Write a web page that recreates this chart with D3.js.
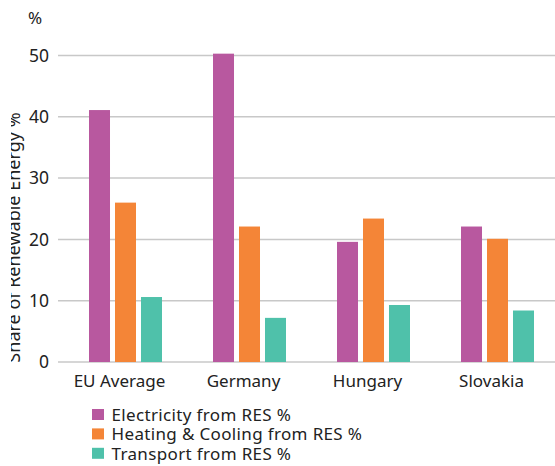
<!DOCTYPE html>
<html>
<head>
<meta charset="utf-8">
<script src="https://cdn.jsdelivr.net/npm/d3@7"></script>
<style>
  body { margin: 0; background: #fff; }
  svg text { font-family: "Noto Sans", "Open Sans", sans-serif; fill: #222; }
</style>
</head>
<body>
<svg id="chart" width="555" height="466"></svg>
<script>
var countries = ["EU Average", "Germany", "Hungary", "Slovakia"];
var seriesNames = ["Electricity from RES %", "Heating & Cooling from RES %", "Transport from RES %"];
var electricity = [41.1, 50.3, 19.6, 22.1];
var heating = [26.0, 22.1, 23.4, 20.1];
var transport = [10.6, 7.2, 9.3, 8.4];
var yTicks = [0, 10, 20, 30, 40, 50];
var colors = ["#b8589f", "#f48537", "#4fc1aa"];

var svg = d3.select("#chart");
var allSeries = [electricity, heating, transport];

var yScale = d3.scaleLinear().domain([0, 50]).range([362, 55.5]);
var x0 = d3.scaleBand().domain(countries).range([63.5, 559.5]);
var x1 = d3.scaleBand().domain(seriesNames).range([25.5, 98.5]).paddingInner(0.192);
var color = d3.scaleOrdinal().domain(seriesNames).range(colors);

// gridlines
svg.append("g")
  .selectAll("line")
  .data(yTicks)
  .enter().append("line")
  .attr("x1", 58).attr("x2", 555)
  .attr("y1", d => yScale(d)).attr("y2", d => yScale(d))
  .attr("stroke", "#c8c8c8")
  .attr("stroke-width", 1.5);

// y axis labels
var yAxis = svg.append("g")
  .attr("transform", "translate(58,0)")
  .call(d3.axisLeft(yScale).tickValues(yTicks).tickSize(0).tickPadding(9));
yAxis.select(".domain").remove();
yAxis.selectAll("text").style("font-size", "17.5px").attr("fill", "#222");

svg.append("text")
  .attr("x", 28).attr("y", 24)
  .style("font-size", "17px")
  .text("%");

// y title, partly cut off on the left
svg.append("clipPath").attr("id", "tclip")
  .append("rect").attr("x", 11).attr("y", 0).attr("width", 40).attr("height", 466);
svg.append("g")
  .attr("clip-path", "url(#tclip)")
  .append("text")
  .attr("transform", "translate(20,237.5) rotate(-90)")
  .attr("text-anchor", "middle")
  .style("font-size", "18px")
  .text("Share of Renewable Energy %");

// bars
var groups = svg.append("g")
  .selectAll("g")
  .data(countries)
  .enter().append("g")
  .attr("transform", d => "translate(" + x0(d) + ",0)");

groups.selectAll("rect")
  .data((c, i) => seriesNames.map((s, j) => ({ s: s, v: allSeries[j][i] })))
  .enter().append("rect")
  .attr("x", d => x1(d.s))
  .attr("width", x1.bandwidth())
  .attr("y", d => yScale(d.v))
  .attr("height", d => yScale(0) - yScale(d.v))
  .attr("fill", d => color(d.s));

// x labels
svg.append("g")
  .selectAll("text")
  .data(countries)
  .enter().append("text")
  .attr("x", d => x0(d) + x0.bandwidth() / 2 - 6)
  .attr("y", 387)
  .attr("text-anchor", "middle")
  .style("font-size", "17px")
  .text(d => d);

// legend
var legend = svg.append("g")
  .selectAll("g")
  .data(seriesNames)
  .enter().append("g")
  .attr("transform", (d, i) => "translate(92," + (409 + i * 19.4) + ")");
legend.append("rect")
  .attr("x", 0).attr("y", 0)
  .attr("width", 12).attr("height", 11)
  .attr("fill", d => color(d));
legend.append("text")
  .attr("x", 19.5).attr("y", 11.8)
  .style("font-size", "17px")
  .style("letter-spacing", "0.35px")
  .text(d => d);
</script>
</body>
</html>
